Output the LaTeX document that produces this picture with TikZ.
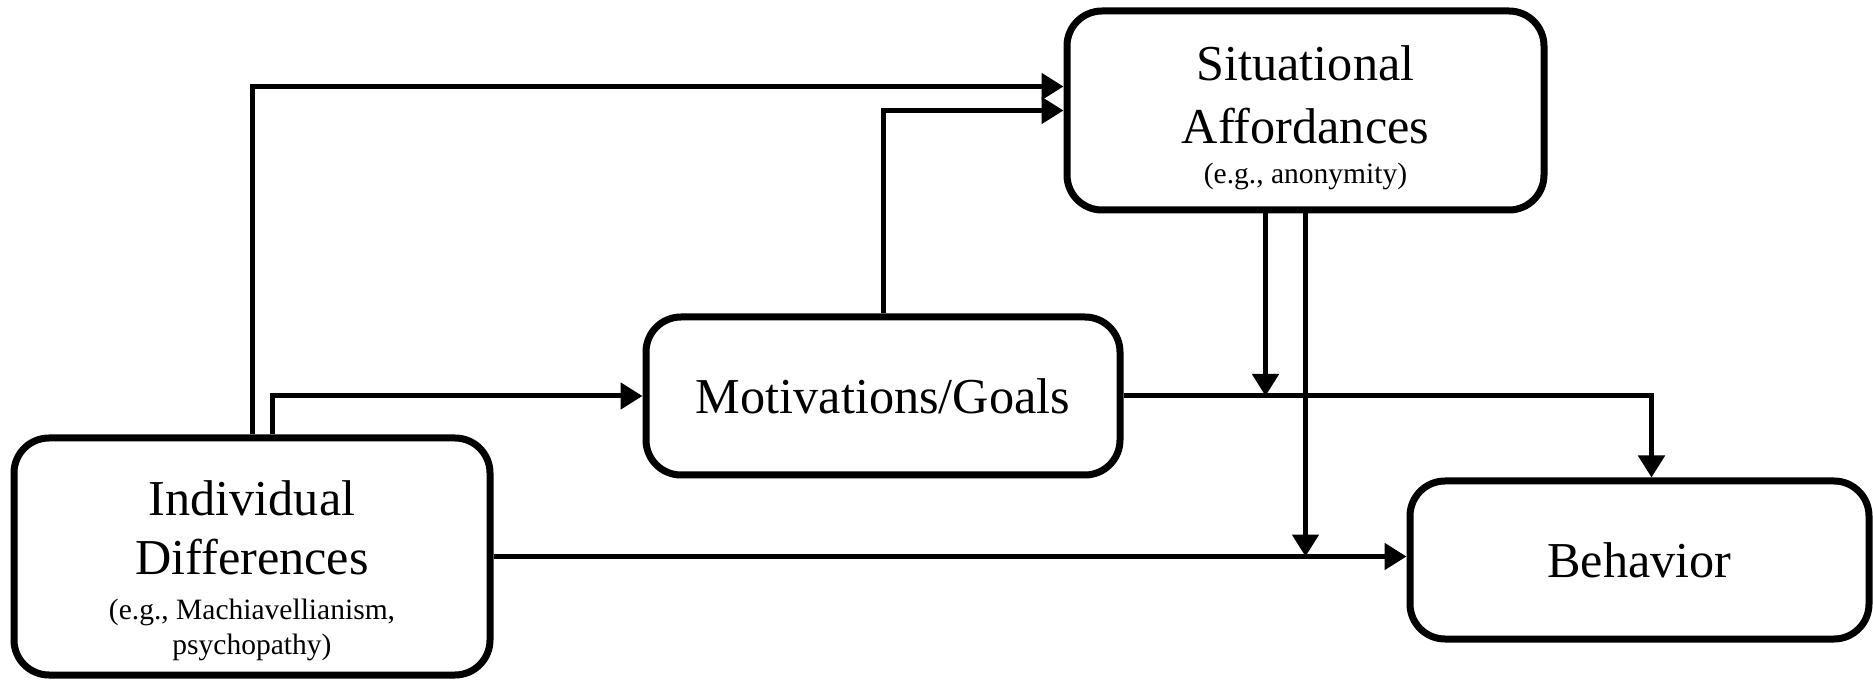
\documentclass[tikz,border=0pt]{standalone}
\usepackage{fontspec}
\setmainfont{Liberation Serif}
\usetikzlibrary{arrows.meta}
\newcommand{\bigtext}{\fontsize{14.3}{16.8}\selectfont}
\newcommand{\smalltext}{\fontsize{8.4}{10.2}\selectfont}
\tikzset{
  box/.style={
    draw=black,
    line width=0.7mm,
    rounded corners=0.35cm,
    align=center,
    inner sep=0pt,
    font=\bigtext
  },
  link/.style={
    line width=0.5mm,
    -{Triangle[length=2.2mm,width=2.6mm]}
  }
}

\begin{document}
\begin{tikzpicture}
  \useasboundingbox (0,0) rectangle (18.73,6.81);

  % Boxes
  \node[box, minimum width=4.76cm, minimum height=2.37cm] (indiv) at (2.52,1.245)
    {\rule{0pt}{18pt}Individual\\Differences\\[-4pt]\smalltext (e.g., Machiavellianism,\\[-7pt]\smalltext psychopathy)};
  \node[box, minimum width=4.74cm, minimum height=1.58cm] (motiv) at (8.83,2.85)
    {Motivations/Goals};
  \node[box, minimum width=4.77cm, minimum height=1.99cm] (sit) at (13.055,5.705)
    {\rule{0pt}{14pt}Situational\\[1pt]Affordances\\[-5.5pt]\smalltext (e.g., anonymity)};
  \node[box, minimum width=4.59cm, minimum height=1.58cm] (behav) at (16.395,1.21)
    {Behavior};

  % Paths
  \draw[link] (indiv.north) |- ([yshift=2.4mm]sit.west);
  \draw[link] ([xshift=2mm]indiv.north) |- (motiv.west);
  \draw[link] (motiv.north) |- (sit.west);
  \draw[link] (motiv.east) -| ([xshift=1.2mm]behav.north);
  \draw[link] ([xshift=-4mm]sit.south) -- ([xshift=-4mm]sit.south |- motiv.east);
  \draw[link] (sit.south) -- (sit.south |- indiv.east);
  \draw[link] (indiv.east) -- (indiv.east -| behav.west);

\end{tikzpicture}
\end{document}
